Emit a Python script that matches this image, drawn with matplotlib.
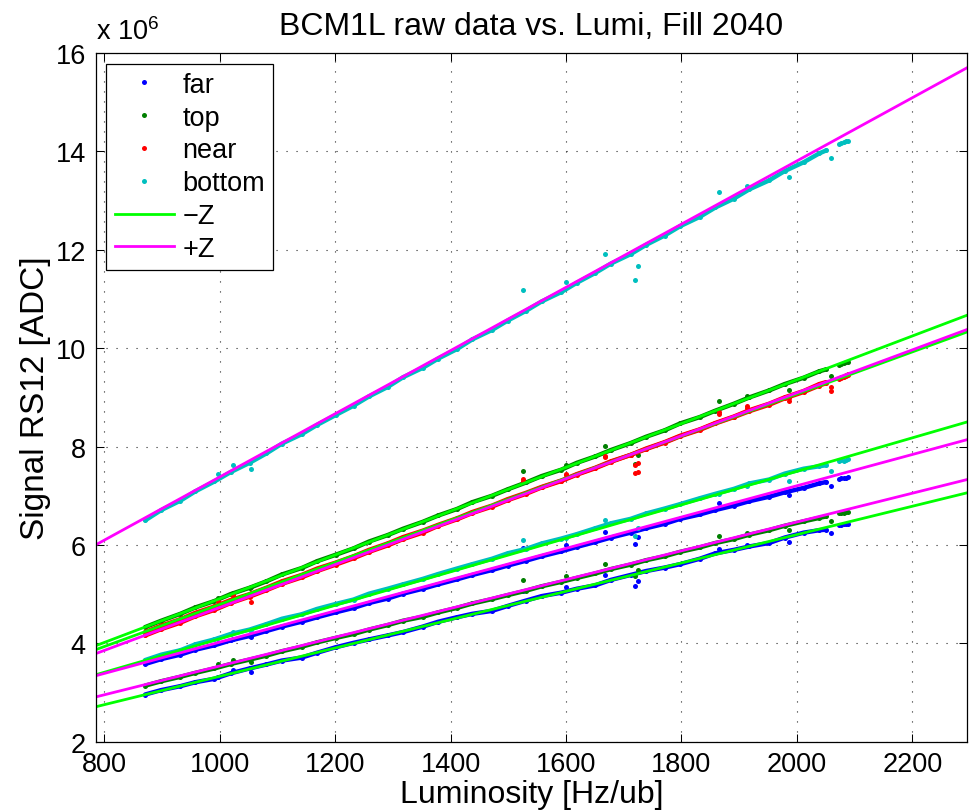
import numpy as np
import matplotlib
matplotlib.use("Agg")
import matplotlib.pyplot as plt

plt.rcParams['font.family'] = ['Liberation Sans', 'DejaVu Sans']
plt.rcParams['mathtext.fontset'] = 'custom'
plt.rcParams['mathtext.rm'] = 'Liberation Sans'

# luminosity samples [Hz/ub] (dense part of the fill)
lumi = [871, 899, 932, 958, 991, 1019, 1052, 1081, 1108, 1142, 1169, 1201, 1232, 1259,
        1291, 1318, 1352, 1379, 1411, 1438, 1472, 1499, 1531, 1558, 1592, 1619, 1651,
        1678, 1712, 1739, 1771, 1798, 1832, 1859, 1891, 1918, 1952, 1979, 2012, 2039, 2051]
lumi_tail = [2073, 2077, 2081, 2085, 2088]
lumi_jump = [997, 1024, 1054, 1525, 1600, 1668, 1720, 1724, 1865, 1913, 1986, 2059]

# signal RS12 [ADC / 1e6]; mz = -Z side, pz = +Z side
far_mz = [2.96, 3.05, 3.13, 3.21, 3.28, 3.39, 3.49, 3.57, 3.65, 3.71, 3.81, 3.92, 4.01, 4.08,
          4.16, 4.23, 4.34, 4.44, 4.53, 4.60, 4.66, 4.76, 4.87, 4.96, 5.03, 5.11, 5.18, 5.29,
          5.39, 5.47, 5.54, 5.61, 5.72, 5.83, 5.90, 5.97, 6.04, 6.15, 6.25, 6.30, 6.31]
far_pz = [3.58, 3.68, 3.77, 3.87, 3.96, 4.06, 4.15, 4.25, 4.34, 4.44, 4.53, 4.63, 4.72, 4.82,
          4.91, 5.01, 5.11, 5.20, 5.30, 5.39, 5.49, 5.58, 5.68, 5.77, 5.87, 5.96, 6.06, 6.15,
          6.25, 6.34, 6.43, 6.53, 6.62, 6.71, 6.80, 6.89, 6.98, 7.07, 7.16, 7.25, 7.28]
top_mz = [4.33, 4.46, 4.60, 4.73, 4.86, 5.00, 5.13, 5.26, 5.40, 5.53, 5.67, 5.80, 5.93, 6.07,
          6.20, 6.33, 6.47, 6.60, 6.73, 6.87, 7.00, 7.13, 7.27, 7.40, 7.53, 7.67, 7.80, 7.93,
          8.07, 8.20, 8.33, 8.47, 8.60, 8.73, 8.87, 9.00, 9.14, 9.27, 9.40, 9.53, 9.57]
top_pz = [3.14, 3.23, 3.32, 3.40, 3.49, 3.58, 3.67, 3.75, 3.84, 3.93, 4.02, 4.11, 4.19, 4.28,
          4.37, 4.46, 4.54, 4.63, 4.72, 4.81, 4.90, 4.98, 5.07, 5.16, 5.25, 5.33, 5.42, 5.51,
          5.60, 5.69, 5.77, 5.86, 5.95, 6.04, 6.12, 6.21, 6.30, 6.39, 6.48, 6.55, 6.58]
near_mz = [4.23, 4.36, 4.49, 4.62, 4.75, 4.88, 5.00, 5.13, 5.26, 5.39, 5.52, 5.64, 5.77, 5.90,
           6.03, 6.16, 6.29, 6.41, 6.54, 6.67, 6.80, 6.93, 7.06, 7.18, 7.31, 7.44, 7.57, 7.70,
           7.83, 7.95, 8.08, 8.21, 8.34, 8.47, 8.60, 8.72, 8.85, 8.98, 9.11, 9.24, 9.29]
near_pz = [4.16, 4.29, 4.42, 4.55, 4.68, 4.82, 4.95, 5.08, 5.21, 5.34, 5.47, 5.60, 5.73, 5.86,
           5.99, 6.12, 6.25, 6.39, 6.52, 6.65, 6.78, 6.91, 7.04, 7.17, 7.30, 7.43, 7.56, 7.69,
           7.83, 7.96, 8.09, 8.22, 8.35, 8.48, 8.61, 8.74, 8.87, 9.00, 9.13, 9.27, 9.31]
bottom_mz = [3.66, 3.77, 3.86, 3.98, 4.08, 4.19, 4.28, 4.39, 4.50, 4.59, 4.70, 4.80, 4.89, 5.01,
             5.11, 5.20, 5.31, 5.41, 5.52, 5.61, 5.72, 5.83, 5.92, 6.03, 6.13, 6.22, 6.34, 6.44,
             6.53, 6.64, 6.74, 6.83, 6.95, 7.04, 7.14, 7.25, 7.33, 7.45, 7.55, 7.60, 7.62]
bottom_pz = [6.50, 6.71, 6.90, 7.09, 7.29, 7.48, 7.67, 7.86, 8.06, 8.25, 8.44, 8.64, 8.83, 9.02,
             9.21, 9.41, 9.60, 9.79, 9.98, 10.18, 10.37, 10.56, 10.76, 10.95, 11.14, 11.33,
             11.53, 11.72, 11.91, 12.10, 12.29, 12.48, 12.67, 12.86, 13.04, 13.23, 13.41,
             13.60, 13.78, 13.96, 14.02]

far_mz_tail = [6.40, 6.41, 6.42, 6.42, 6.43]
far_pz_tail = [7.35, 7.36, 7.36, 7.37, 7.38]
top_mz_tail = [9.66, 9.68, 9.69, 9.71, 9.72]
top_pz_tail = [6.64, 6.65, 6.65, 6.66, 6.67]
near_mz_tail = [9.40, 9.42, 9.44, 9.45, 9.47]
near_pz_tail = [9.38, 9.40, 9.42, 9.43, 9.45]
bottom_mz_tail = [7.70, 7.72, 7.71, 7.73, 7.74]
bottom_pz_tail = [14.16, 14.18, 14.19, 14.21, 14.22]

far_mz_jump = [3.32, 3.45, 3.42, 5.07, 5.14, 5.39, 5.16, 5.26, 5.92, 6.00, 6.06, 6.24]
far_pz_jump = [4.00, 4.08, 4.13, 5.94, 6.00, 6.27, 6.02, 6.16, 6.86, 6.90, 7.01, 7.20]
top_mz_jump = [4.92, 5.03, 5.15, 7.50, 7.62, 8.01, 7.65, 7.83, 8.93, 9.02, 9.14, 9.43]
top_pz_jump = [3.57, 3.66, 3.62, 5.28, 5.36, 5.61, 5.37, 5.50, 6.18, 6.24, 6.31, 6.49]
near_mz_jump = [4.87, 4.99, 5.02, 7.35, 7.45, 7.81, 7.63, 7.66, 8.70, 8.83, 8.98, 9.21]
near_pz_jump = [4.75, 4.93, 4.85, 7.31, 7.42, 7.78, 7.47, 7.49, 8.66, 8.78, 8.93, 9.13]
bottom_mz_jump = [4.10, 4.23, 4.27, 6.10, 6.14, 6.50, 6.19, 6.34, 7.04, 7.20, 7.30, 7.51]
bottom_pz_jump = [7.45, 7.62, 7.55, 11.19, 11.35, 11.92, 11.38, 11.68, 13.17, 13.30, 13.47, 13.86]

# linear fits (signal = offset + slope * lumi), order far, top, near, bottom
fit_slope_mz = [0.002881, 0.00445, 0.004278, 0.003404]
fit_offset_mz = [0.448, 0.457, 0.512, 0.688]
fit_slope_pz = [0.003179, 0.002927, 0.004364, 0.006424]
fit_offset_pz = [0.8445, 0.612, 0.364, 0.957]

labels = ['far', 'top', 'near', 'bottom']
colors = ['#0000ff', '#007f00', '#ff0000', '#00bfbf']
dense = [(far_mz, far_pz), (top_mz, top_pz), (near_mz, near_pz), (bottom_mz, bottom_pz)]
tails = [(far_mz_tail, far_pz_tail), (top_mz_tail, top_pz_tail),
         (near_mz_tail, near_pz_tail), (bottom_mz_tail, bottom_pz_tail)]
jumps = [(far_mz_jump, far_pz_jump), (top_mz_jump, top_pz_jump),
         (near_mz_jump, near_pz_jump), (bottom_mz_jump, bottom_pz_jump)]

fig = plt.figure(figsize=(9.7, 8.12), dpi=100)
ax = fig.add_axes([0.0985, 0.0853, 0.8985, 0.8482])

handles = []
for lab, col, d, t, j in zip(labels, colors, dense, tails, jumps):
    for side in range(2):
        ax.plot(lumi, d[side], '-', color=col, lw=3.2, solid_capstyle='round')
        ax.plot(lumi, d[side], 'o', color=col, ms=3.6, mew=0)
        ax.plot(lumi_tail, t[side], 'o', color=col, ms=3.6, mew=0)
        h, = ax.plot(lumi_jump, j[side], 'o', color=col, ms=3.6, mew=0)
    handles.append(h)

ax.set_xlim(785, 2295)
ax.set_ylim(2, 16)
xl = np.array(ax.get_xlim())
for s, o in zip(fit_slope_mz, fit_offset_mz):
    hm, = ax.plot(xl, o + s * xl, color='#00ff00', lw=2.0)
for s, o in zip(fit_slope_pz, fit_offset_pz):
    hp, = ax.plot(xl, o + s * xl, color='#ff00ff', lw=2.0)
handles += [hm, hp]

ax.set_xticks(range(800, 2201, 200))
ax.set_yticks(range(2, 17, 2))
ax.tick_params(direction='in', top=True, right=True, length=6, width=0.75,
               labelsize=19.5, pad=7)
ax.grid(True, linestyle=(0, (1, 8)), color='0.15', lw=0.8)
for sp in ax.spines.values():
    sp.set_linewidth(0.9)

ax.set_title('BCM1L raw data vs. Lumi, Fill 2040', fontsize=23, pad=14)
ax.set_xlabel('Luminosity [Hz/ub]', fontsize=23, labelpad=1)
ax.set_ylabel('Signal RS12 [ADC]', fontsize=24, labelpad=3)
ax.text(0.0, 1.012, r'x 10$^{6}$', transform=ax.transAxes, fontsize=19.5,
        ha='left', va='bottom')

leg = ax.legend(handles, labels + ['\u2212Z', '+Z'], loc='upper left', fontsize=19.5,
                frameon=True, fancybox=False, shadow=False, borderaxespad=0.4,
                handlelength=2.2, handletextpad=0.3, labelspacing=0.25, borderpad=0.3,
                markerscale=1.0)
leg.get_frame().set_edgecolor('k')
leg.get_frame().set_linewidth(0.9)
leg.get_frame().set_alpha(1)

fig.savefig('out.png', dpi=100)
